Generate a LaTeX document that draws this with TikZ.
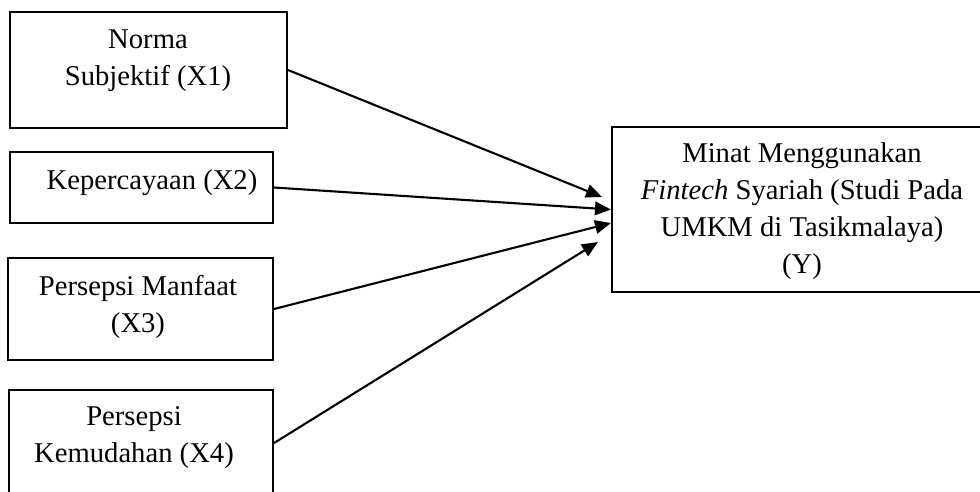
\documentclass[tikz,border=0pt]{standalone}
\usepackage{fontspec}
\setmainfont{Liberation Serif}
\usetikzlibrary{positioning, arrows.meta}

\begin{document}
\begin{tikzpicture}[x=0.02cm, y=-0.02cm,
  box/.style={draw, line width=1.2pt, inner sep=0pt},
  txt/.style={align=center, inner sep=0pt, font=\fontsize{16.3}{21}\selectfont},
  arr/.style={line width=1.2pt, -{Triangle[length=0.32cm, width=0.27cm]}}]
\useasboundingbox (0,0) rectangle (980,491);
\clip (0,0) rectangle (980,491);
% kotak variabel
\node[box, minimum width=5.54cm, minimum height=2.32cm] (norma) at (148.5,70) {};
\node[box, minimum width=5.26cm, minimum height=1.42cm] (percaya) at (141.5,187.5) {};
\node[box, minimum width=5.3cm, minimum height=2.04cm] (manfaat) at (140.5,309) {};
\node[box, minimum width=5.28cm, minimum height=2.12cm] (mudah) at (141,443) {};
\node[box, minimum width=7.6cm, minimum height=3.3cm] (minat) at (802,209.5) {};
% teks
\node[txt] (normaT) at (148,61) {Norma\\Subjektif (X1)};
\node[txt] (percayaT) at (152,183) {Kepercayaan (X2)};
\node[txt] (manfaatT) at (138,307) {Persepsi Manfaat\\(X3)};
\node[txt] (mudahT) at (134,437.5) {Persepsi\\Kemudahan (X4)};
\node[txt] (minatT) at (802,211) {Minat Menggunakan\\\textit{Fintech} Syariah (Studi Pada\\UMKM di Tasikmalaya)\\(Y)};
% panah
\draw[arr] (norma.east) -- ([shift={(-9,-12.5)}]minat.west);
\draw[arr] (percaya.east) -- (minat.west);
\draw[arr] (manfaat.east) -- ([shift={(0,13.5)}]minat.west);
\draw[arr] (mudah.east) -- ([shift={(-13,32.5)}]minat.west);
\end{tikzpicture}
\end{document}
